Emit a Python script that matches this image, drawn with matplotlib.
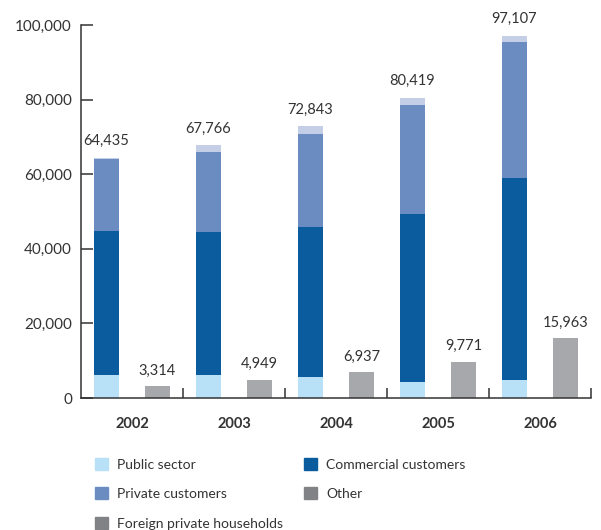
import numpy as np
import matplotlib
matplotlib.use("Agg")
import matplotlib.pyplot as plt
from matplotlib.patches import Patch

plt.rcParams["font.family"] = ["Lato", "DejaVu Sans"]

years = ["2002", "2003", "2004", "2005", "2006"]
totals = [64435, 67766, 72843, 80419, 97107]
public_sector = [6200, 6200, 5600, 4300, 4800]
commercial = [38600, 38300, 40200, 45000, 54200]
private = [19300, 21500, 25000, 29300, 36400]
other = [335, 1766, 2043, 1819, 1707]
foreign = [3314, 4949, 6937, 9771, 15963]

c_public = "#b8e0f6"
c_comm = "#0a5c9f"
c_priv = "#6b8cc1"
c_other = "#c4cfe7"
c_foreign = "#a7a8ac"
c_legend_gray = "#818285"
txt = "#333333"


def main():
    fig = plt.figure(figsize=(6.01, 5.30), dpi=100)
    ax = fig.add_axes([81 / 601, 132 / 530, 510 / 601, 373 / 530])

    x = np.arange(len(years))
    w = 0.245
    xs = x - 0.25
    xf = x + 0.25

    bottom = np.zeros(len(years))
    for vals, col in [(public_sector, c_public), (commercial, c_comm),
                      (private, c_priv), (other, c_other)]:
        ax.bar(xs, vals, w, bottom=bottom, color=col, linewidth=0)
        bottom += np.array(vals)
    ax.bar(xf, foreign, w, color=c_foreign, linewidth=0)

    # value labels over the bars
    for xi, t in zip(xs, totals):
        ax.text(xi, t + 2600, f"{t:,}", ha="center", va="bottom",
                fontsize=10.5, color=txt, clip_on=False)
    for xi, f in zip(xf, foreign):
        ax.text(xi, f + 2200, f"{f:,}", ha="center", va="bottom",
                fontsize=10.5, color=txt, clip_on=False)

    ax.set_xlim(-0.5, 4.5)
    ax.set_ylim(0, 100000)
    ax.set_yticks(np.arange(0, 100001, 20000))
    ax.set_yticklabels([f"{v:,}" for v in range(0, 100001, 20000)])
    ax.tick_params(axis="y", direction="in", length=8.6, width=1.1,
                   color=txt, labelsize=11, labelcolor=txt, pad=6.5)

    ax.set_xticks(x)
    ax.set_xticklabels(years, fontweight="bold")
    ax.tick_params(axis="x", which="major", length=0, labelsize=10.5,
                   labelcolor=txt, pad=14)
    ax.set_xticks(np.arange(0.5, 5.0, 1.0), minor=True)
    ax.tick_params(axis="x", which="minor", direction="in", length=7,
                   width=1.1, color=txt)

    for s in ["top", "right"]:
        ax.spines[s].set_visible(False)
    for s in ["left", "bottom"]:
        ax.spines[s].set_color(txt)
        ax.spines[s].set_linewidth(1.1)

    handles = [Patch(color=c_public, label="Public sector"),
               Patch(color=c_priv, label="Private customers"),
               Patch(color=c_legend_gray, label="Foreign private households"),
               Patch(color=c_comm, label="Commercial customers"),
               Patch(color=c_legend_gray, label="Other")]
    fig.legend(handles=handles, ncol=2, loc="upper left",
               bbox_to_anchor=(95 / 601, 1 - 458 / 530), frameon=False,
               fontsize=10, handlelength=0.95, handleheight=0.95,
               handletextpad=0.65, columnspacing=1.5, labelspacing=1.2,
               borderpad=0, borderaxespad=0, labelcolor=txt)

    fig.savefig("out.png", dpi=100)


if __name__ == "__main__":
    main()
